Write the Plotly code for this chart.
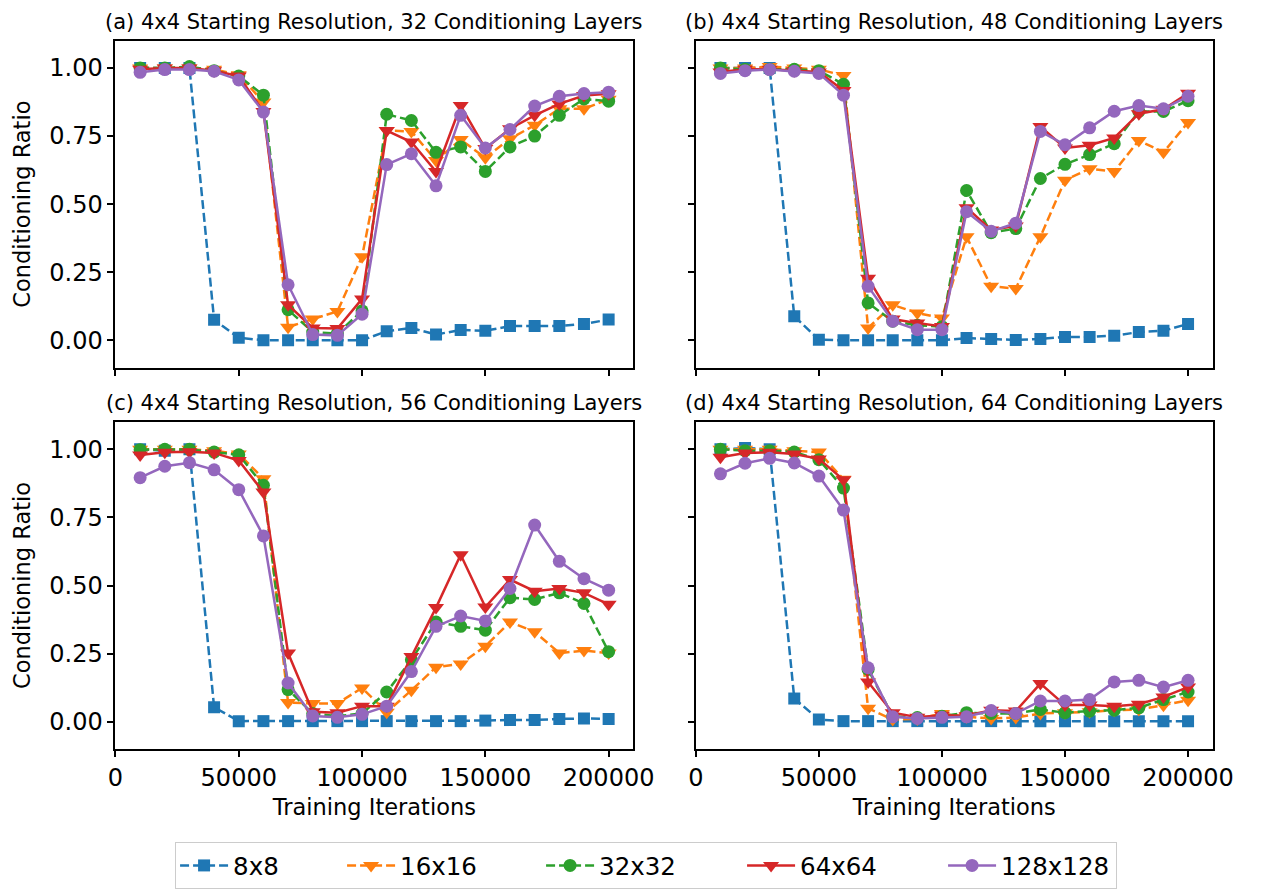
import plotly.graph_objects as go

# Training iterations at which the conditioning ratio was measured
iterations = [10000, 20000, 30000, 40000, 50000, 60000, 70000, 80000, 90000, 100000,
              110000, 120000, 130000, 140000, 150000, 160000, 170000, 180000, 190000, 200000]

resolutions = ["8x8", "16x16", "32x32", "64x64", "128x128"]

panel_titles = [
    "(a) 4x4 Starting Resolution, 32 Conditioning Layers",
    "(b) 4x4 Starting Resolution, 48 Conditioning Layers",
    "(c) 4x4 Starting Resolution, 56 Conditioning Layers",
    "(d) 4x4 Starting Resolution, 64 Conditioning Layers",
]

# (a) 32 conditioning layers
a_8 = [1.0, 1.0, 1.0, 0.075, 0.009, 0.0, 0.0, 0.0, 0.0, 0.0, 0.033, 0.045, 0.021, 0.038, 0.035, 0.052, 0.052, 0.052, 0.06, 0.076]
a_16 = [1.0, 1.0, 1.0, 0.995, 0.975, 0.875, 0.048, 0.078, 0.106, 0.307, 0.77, 0.767, 0.66, 0.737, 0.67, 0.74, 0.79, 0.85, 0.85, 0.885]
a_32 = [1.0, 1.0, 1.005, 0.99, 0.97, 0.90, 0.112, 0.03, 0.025, 0.108, 0.83, 0.807, 0.69, 0.71, 0.62, 0.71, 0.75, 0.826, 0.886, 0.878]
a_64 = [0.995, 1.0, 1.0, 0.99, 0.97, 0.84, 0.13, 0.045, 0.043, 0.152, 0.77, 0.728, 0.62, 0.862, 0.704, 0.777, 0.826, 0.868, 0.899, 0.905]
a_128 = [0.984, 0.994, 0.994, 0.988, 0.956, 0.838, 0.204, 0.021, 0.018, 0.096, 0.645, 0.685, 0.567, 0.826, 0.706, 0.774, 0.86, 0.896, 0.906, 0.911]

# (b) 48 conditioning layers
b_8 = [1.0, 1.0, 1.0, 0.088, 0.002, 0.0, 0.0, 0.0, 0.0, 0.0, 0.008, 0.005, 0.001, 0.005, 0.012, 0.012, 0.017, 0.03, 0.035, 0.06]
b_16 = [1.0, 1.0, 1.005, 1.0, 0.995, 0.972, 0.045, 0.13, 0.1, 0.082, 0.38, 0.198, 0.19, 0.38, 0.588, 0.63, 0.62, 0.734, 0.69, 0.80]
b_32 = [1.0, 0.995, 0.995, 0.995, 0.99, 0.94, 0.137, 0.07, 0.055, 0.05, 0.55, 0.395, 0.41, 0.594, 0.646, 0.682, 0.722, 0.84, 0.84, 0.88]
b_64 = [0.985, 0.995, 0.995, 0.99, 0.985, 0.917, 0.228, 0.078, 0.063, 0.051, 0.487, 0.405, 0.42, 0.785, 0.706, 0.716, 0.743, 0.832, 0.848, 0.907]
b_128 = [0.98, 0.99, 0.994, 0.988, 0.98, 0.90, 0.198, 0.07, 0.039, 0.039, 0.472, 0.40, 0.43, 0.767, 0.718, 0.78, 0.841, 0.862, 0.85, 0.896]

# (c) 56 conditioning layers
c_8 = [1.0, 0.995, 1.0, 0.053, 0.002, 0.002, 0.002, 0.002, 0.002, 0.002, 0.002, 0.002, 0.002, 0.002, 0.004, 0.006, 0.006, 0.01, 0.012, 0.01]
c_16 = [1.0, 1.0, 1.0, 0.995, 0.983, 0.892, 0.07, 0.067, 0.067, 0.124, 0.035, 0.115, 0.2, 0.212, 0.277, 0.366, 0.33, 0.252, 0.261, 0.252]
c_32 = [0.999, 1.0, 1.0, 0.99, 0.98, 0.868, 0.118, 0.03, 0.02, 0.03, 0.109, 0.227, 0.366, 0.35, 0.336, 0.455, 0.449, 0.473, 0.434, 0.257]
c_64 = [0.979, 0.989, 0.991, 0.987, 0.959, 0.843, 0.252, 0.036, 0.033, 0.057, 0.057, 0.239, 0.419, 0.613, 0.421, 0.522, 0.479, 0.489, 0.473, 0.431]
c_128 = [0.896, 0.938, 0.951, 0.925, 0.852, 0.682, 0.142, 0.021, 0.016, 0.027, 0.057, 0.184, 0.35, 0.388, 0.37, 0.489, 0.722, 0.589, 0.525, 0.483]

# (d) 64 conditioning layers
d_8 = [1.0, 1.005, 1.0, 0.085, 0.008, 0.002, 0.002, 0.002, 0.002, 0.002, 0.002, 0.002, 0.002, 0.002, 0.002, 0.002, 0.002, 0.002, 0.002, 0.002]
d_16 = [1.0, 1.0, 1.0, 0.995, 0.99, 0.89, 0.049, 0.008, 0.01, 0.03, 0.018, 0.012, 0.015, 0.03, 0.033, 0.036, 0.042, 0.045, 0.06, 0.079]
d_32 = [1.0, 0.995, 0.995, 0.99, 0.962, 0.858, 0.192, 0.02, 0.015, 0.02, 0.033, 0.03, 0.03, 0.045, 0.033, 0.039, 0.042, 0.051, 0.081, 0.109]
d_64 = [0.971, 0.987, 0.989, 0.983, 0.965, 0.888, 0.146, 0.033, 0.016, 0.024, 0.022, 0.042, 0.039, 0.14, 0.061, 0.061, 0.057, 0.064, 0.091, 0.127]
d_128 = [0.91, 0.949, 0.967, 0.95, 0.902, 0.777, 0.198, 0.018, 0.012, 0.016, 0.018, 0.041, 0.03, 0.076, 0.076, 0.081, 0.146, 0.152, 0.127, 0.152]

panels = [
    [a_8, a_16, a_32, a_64, a_128],
    [b_8, b_16, b_32, b_64, b_128],
    [c_8, c_16, c_32, c_64, c_128],
    [d_8, d_16, d_32, d_64, d_128],
]

x_ticks = [0, 50000, 100000, 150000, 200000]
y_ticks = [0.0, 0.25, 0.5, 0.75, 1.0]

# Per-resolution styling
colors = ["#1f77b4", "#ff7f0e", "#2ca02c", "#d62728", "#9467bd"]
symbols = ["square", "triangle-down", "circle", "triangle-down", "circle"]
sizes = [12, 14, 13, 14, 13]
dashes = ["9px,4px", "9px,4px", "9px,4px", "solid", "solid"]
legend_widths = [104, 136, 138, 138, 110]

W, H = 1262, 889
FONT = "DejaVu Sans"
TICK_SIZE = 24
LABEL_SIZE = 22.5
TITLE_SIZE = 21
LEGEND_SIZE = 24.5

# Axes boxes in pixels: (left, right, top, bottom)
boxes = [
    (110, 640, 41, 370),
    (704, 1233, 41, 370),
    (110, 640, 425, 754),
    (704, 1233, 425, 754),
]

fig = go.Figure()

for p, series in enumerate(panels):
    ax = "" if p == 0 else str(p + 1)
    for s, vals in enumerate(series):
        fig.add_trace(go.Scatter(
            x=iterations, y=vals,
            xaxis="x" + ax, yaxis="y" + ax,
            mode="lines+markers",
            name=resolutions[s],
            legendgroup=resolutions[s],
            legendwidth=legend_widths[s],
            showlegend=(p == 0),
            line=dict(color=colors[s], width=2.5, dash=dashes[s]),
            marker=dict(symbol=symbols[s], size=sizes[s], color=colors[s],
                        line=dict(width=0)),
        ))

layout = dict(
    width=W, height=H,
    margin=dict(l=0, r=0, t=0, b=0),
    paper_bgcolor="white", plot_bgcolor="white",
    font=dict(family=FONT, color="black"),
    annotations=[],
    legend=dict(
        orientation="h",
        x=171 / W, y=1 - 848 / H, xanchor="left", yanchor="top",
        font=dict(family=FONT, size=LEGEND_SIZE, color="black"),
        bordercolor="#cccccc", borderwidth=1,
        itemwidth=48, tracegroupgap=0,
    ),
)

for p, (l, r, t, b) in enumerate(boxes):
    ax = "" if p == 0 else str(p + 1)
    left_col = p in (0, 2)
    bottom_row = p in (2, 3)
    layout["xaxis" + ax] = dict(
        domain=[l / W, r / W],
        anchor="y" + ax,
        range=[0, 210000],
        tickvals=x_ticks,
        ticktext=[str(v) for v in x_ticks],
        showticklabels=bottom_row,
        ticks="outside", ticklen=6, tickwidth=1.5, tickcolor="black",
        tickfont=dict(family=FONT, size=TICK_SIZE, color="black"),
        showline=True, linecolor="black", linewidth=2, mirror=True,
        showgrid=False, zeroline=False,
        title=dict(text="Training Iterations" if bottom_row else "",
                   font=dict(family=FONT, size=LABEL_SIZE, color="black"), standoff=9),
    )
    layout["yaxis" + ax] = dict(
        domain=[1 - b / H, 1 - t / H],
        anchor="x" + ax,
        range=[-0.1, 1.1],
        tickvals=y_ticks,
        ticktext=["%.2f" % v for v in y_ticks],
        showticklabels=left_col,
        ticks="outside", ticklen=6, tickwidth=1.5, tickcolor="black",
        tickfont=dict(family=FONT, size=TICK_SIZE, color="black"),
        showline=True, linecolor="black", linewidth=2, mirror=True,
        showgrid=False, zeroline=False,
        title=dict(text="Conditioning Ratio" if left_col else "",
                   font=dict(family=FONT, size=LABEL_SIZE, color="black"), standoff=12),
    )
    layout["annotations"].append(dict(
        text=panel_titles[p],
        xref="paper", yref="paper",
        x=(l + r) / 2 / W, y=1 - (t - 5) / H,
        xanchor="center", yanchor="bottom",
        showarrow=False,
        font=dict(family=FONT, size=TITLE_SIZE, color="black"),
    ))

fig.update_layout(**layout)
fig.write_html("out.html")
